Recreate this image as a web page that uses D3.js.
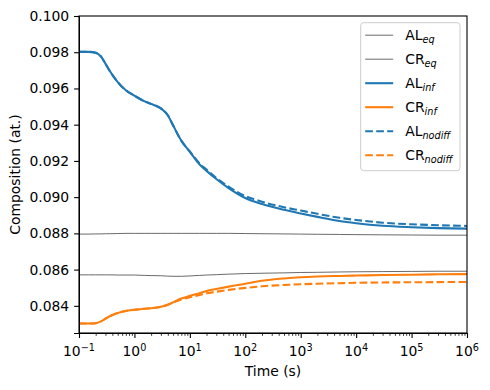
<!DOCTYPE html>
<html>
<head>
<meta charset="utf-8">
<script src="https://cdn.jsdelivr.net/npm/d3@7"></script>
<style>
  body { margin: 0; background: #fff; }
  text { font-family: "DejaVu Sans", sans-serif; fill: #000; }
</style>
</head>
<body>
<div id="chart"></div>
<script>
// data
var times = [0.1, 0.15, 0.2, 0.25, 0.3, 0.35, 0.5, 0.7, 1, 1.5, 2, 3, 4, 5, 7, 10, 15, 20, 30, 50,
    100, 200, 500, 1e3, 2e3, 5e3, 1e4, 3e4, 1e5, 3e5, 1e6];

var alEq = [0.08796, 0.08796, 0.08797, 0.08797, 0.08798, 0.08798, 0.08799, 0.08800, 0.08800, 0.08800, 0.08800,
    0.08800, 0.08800, 0.08800, 0.08800, 0.08800, 0.08800, 0.08800, 0.08800, 0.08800,
    0.08799, 0.08798, 0.08797, 0.08796, 0.08795, 0.08794, 0.08793, 0.08792, 0.08791, 0.08790, 0.08790];
var crEq = [0.08571, 0.08571, 0.08571, 0.08571, 0.08571, 0.08571, 0.08570, 0.08570, 0.08570, 0.08568, 0.08567,
    0.08566, 0.08564, 0.08563, 0.08563, 0.08565, 0.08568, 0.08570, 0.08572, 0.08575,
    0.08578, 0.08580, 0.08582, 0.08584, 0.08585, 0.08587, 0.08588, 0.08589, 0.08590, 0.08591, 0.08591];
var alInf = [0.09802, 0.09802, 0.09797, 0.09776, 0.09737, 0.09702, 0.09635, 0.09590, 0.09560, 0.09530, 0.09515,
    0.09490, 0.09452, 0.09395, 0.09312, 0.09250, 0.09180, 0.09145, 0.09100, 0.09050,
    0.08995, 0.08962, 0.08930, 0.08910, 0.08891, 0.08868, 0.08856, 0.08842, 0.08834, 0.08829, 0.08826];
var crInf = [0.08302, 0.08302, 0.08304, 0.08314, 0.08329, 0.08341, 0.08361, 0.08372, 0.08378, 0.08384, 0.08387,
    0.08395, 0.08406, 0.08420, 0.08440, 0.08455, 0.08470, 0.08482, 0.08493, 0.08506,
    0.08522, 0.08538, 0.08551, 0.08558, 0.08562, 0.08565, 0.08567, 0.08570, 0.08572, 0.08574, 0.08575];
var alNodiff = [0.09802, 0.09802, 0.09797, 0.09776, 0.09737, 0.09702, 0.09635, 0.09590, 0.09560, 0.09530, 0.09515,
    0.09490, 0.09452, 0.09395, 0.09312, 0.09252, 0.09186, 0.09152, 0.09106, 0.09058,
    0.09006, 0.08975, 0.08944, 0.08926, 0.08908, 0.08886, 0.08874, 0.08859, 0.08850, 0.08845, 0.08841];
var crNodiff = [0.08302, 0.08302, 0.08304, 0.08314, 0.08329, 0.08341, 0.08361, 0.08372, 0.08378, 0.08384, 0.08387,
    0.08395, 0.08406, 0.08418, 0.08435, 0.08447, 0.08460, 0.08469, 0.08478, 0.08488,
    0.08499, 0.08508, 0.08515, 0.08519, 0.08522, 0.08525, 0.08527, 0.08529, 0.08530, 0.08531, 0.08532];

var seriesNames = ["AL", "CR", "AL", "CR", "AL", "CR"];
var seriesSubs = ["eq", "eq", "inf", "inf", "nodiff", "nodiff"];
var yTicks = [0.084, 0.086, 0.088, 0.090, 0.092, 0.094, 0.096, 0.098, 0.100];
var xTicks = [-1, 0, 1, 2, 3, 4, 5, 6];

var svgWidth = 490;
var svgHeight = 390;
var margin = { top: 16, right: 23, bottom: 57, left: 79 };
var width = svgWidth - margin.left - margin.right;
var height = svgHeight - margin.top - margin.bottom;

var svg = d3.select("#chart").append("svg")
    .attr("width", svgWidth)
    .attr("height", svgHeight);

var g = svg.append("g")
    .attr("transform", `translate(${margin.left}, ${margin.top})`);

var x = d3.scaleLog().domain([0.1, 1e6]).range([0, width]);
var y = d3.scaleLinear().domain([0.0825, 0.100]).range([height, 0]);

var series = [
    { vals: alEq, color: "#444", w: 0.8, dash: null },
    { vals: crEq, color: "#444", w: 0.8, dash: null },
    { vals: alInf, color: "#1f77b4", w: 2.08, dash: null },
    { vals: crInf, color: "#ff7f0e", w: 2.08, dash: null },
    { vals: alNodiff, color: "#1f77b4", w: 2.08, dash: "7.7,3.3" },
    { vals: crNodiff, color: "#ff7f0e", w: 2.08, dash: "7.7,3.3" }
];

var line = d3.line()
    .x(d => x(d[0]))
    .y(d => y(d[1]))
    .curve(d3.curveMonotoneX);

g.append("clipPath").attr("id", "clip")
    .append("rect").attr("width", width).attr("height", height);

var lines = g.append("g").attr("clip-path", "url(#clip)");
series.forEach(function (s) {
    lines.append("path")
        .datum(times.map((t, i) => [t, s.vals[i]]))
        .attr("d", line)
        .attr("fill", "none")
        .attr("stroke", s.color)
        .attr("stroke-width", s.w)
        .attr("stroke-dasharray", s.dash);
});

// axes
var minor = [];
for (var e = -1; e < 6; e++) {
    for (var k = 2; k < 10; k++) minor.push(k * Math.pow(10, e));
}

g.append("g")
    .attr("transform", `translate(0, ${height})`)
    .call(d3.axisBottom(x).tickValues(minor).tickSize(2.8).tickFormat(""))
    .call(a => a.select(".domain").remove())
    .selectAll("line").attr("stroke-width", 0.8);

var xAxis = g.append("g")
    .attr("transform", `translate(0, ${height})`)
    .call(d3.axisBottom(x).tickValues(xTicks.map(p => Math.pow(10, p))).tickSize(4.9).tickFormat(""));
xAxis.selectAll("line").attr("stroke-width", 1.1);

var xLab = g.append("g").selectAll("text")
    .data(xTicks)
    .enter().append("text")
    .attr("x", d => x(Math.pow(10, d)))
    .attr("y", height + 23.3)
    .attr("text-anchor", "middle")
    .style("font-size", "13.9px");
xLab.append("tspan").text("10");
xLab.append("tspan")
    .attr("dy", -5)
    .style("font-size", "9.7px")
    .text(d => String(d).replace("-", "\u2212"));

var yAxis = g.append("g")
    .call(d3.axisLeft(y).tickValues(yTicks).tickSize(4.9).tickPadding(4.9).tickFormat(d3.format(".3f")));
yAxis.selectAll("line").attr("stroke-width", 1.1);
yAxis.selectAll("text")
    .style("font-family", "DejaVu Sans")
    .style("font-size", "13.9px");

// frame
g.append("rect")
    .attr("width", width).attr("height", height)
    .attr("fill", "none").attr("stroke", "#000").attr("stroke-width", 1.1);

// axis labels
g.append("text")
    .attr("x", width / 2)
    .attr("y", height + 42.5)
    .attr("text-anchor", "middle")
    .style("font-size", "13.9px")
    .text("Time (s)");

g.append("text")
    .attr("transform", `translate(${-59}, ${height / 2}) rotate(-90)`)
    .attr("text-anchor", "middle")
    .style("font-size", "13.9px")
    .text("Composition (at.)");

// legend
var legend = g.append("g").attr("transform", `translate(${360.7 - margin.left}, ${22.7 - margin.top})`);
legend.append("rect")
    .attr("width", 99.3).attr("height", 148)
    .attr("rx", 2.8)
    .attr("fill", "#fff").attr("fill-opacity", 0.8)
    .attr("stroke", "#ccc").attr("stroke-width", 1);

var rows = legend.selectAll(".row")
    .data(series)
    .enter().append("g")
    .attr("class", "row")
    .attr("transform", (d, i) => `translate(0, ${12.5 + i * 24})`);

rows.append("line")
    .attr("x1", 4.5).attr("x2", 32.5)
    .attr("stroke", d => d.color)
    .attr("stroke-width", d => d.w)
    .attr("stroke-dasharray", d => d.dash);

var lt = rows.append("text")
    .attr("x", 44.5)
    .attr("y", 5)
    .style("font-size", "13.9px");
lt.append("tspan").text((d, i) => seriesNames[i]);
lt.append("tspan")
    .attr("dy", 2.5)
    .style("font-size", "9.7px")
    .style("font-style", "italic")
    .text((d, i) => seriesSubs[i]);
</script>
</body>
</html>
